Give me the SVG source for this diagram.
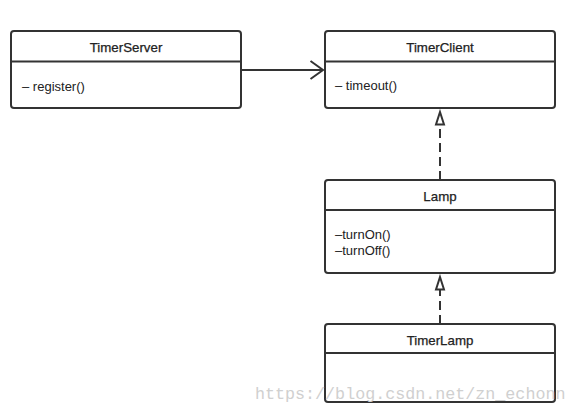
<svg xmlns="http://www.w3.org/2000/svg" width="575" height="415" viewBox="0 0 575 415">
<style>
.box{fill:#fff;stroke:#333;stroke-width:2}
.sep{stroke:#333;stroke-width:2}
.t{font-family:"Liberation Sans",Arial,sans-serif;font-size:13px;fill:#222}
.h{font-size:13.3px;text-anchor:middle;stroke:#222;stroke-width:0.25}
.conn{fill:none;stroke:#333;stroke-width:2}
.dash{stroke-dasharray:9 5}
.tri{fill:#fff;stroke:#333;stroke-width:2}
.wm{font-family:"Liberation Mono","Courier New",monospace;font-size:16.7px;fill:#d0d0d0}
</style>
<defs>
<marker id="open" markerWidth="16" markerHeight="22" refX="14" refY="11" orient="auto" markerUnits="userSpaceOnUse">
<path d="M1.5,2 L14,11 L1.5,20" fill="none" stroke="#333" stroke-width="2"/>
</marker>
</defs>
<rect width="575" height="415" fill="#fff"/>
<g id="TimerServer">
<rect class="box" x="11" y="31" width="230" height="77" rx="3"/>
<line class="sep" x1="11" y1="61.5" x2="241" y2="61.5"/>
<text class="t h" x="126" y="51.5">TimerServer</text>
<text class="t" x="22" y="91">– register()</text>
</g>
<g id="TimerClient">
<rect class="box" x="325" y="31" width="230" height="77" rx="3"/>
<line class="sep" x1="325" y1="61.5" x2="555" y2="61.5"/>
<text class="t h" x="440" y="51.5">TimerClient</text>
<text class="t" x="335" y="90">– timeout()</text>
</g>
<g id="Lamp">
<rect class="box" x="325" y="180" width="230" height="93" rx="3"/>
<line class="sep" x1="325" y1="210" x2="555" y2="210"/>
<text class="t h" x="440" y="200.5">Lamp</text>
<text class="t" x="335" y="238.5">–turnOn()</text>
<text class="t" x="335" y="254.5">–turnOff()</text>
</g>
<g id="TimerLamp">
<rect class="box" x="325" y="324" width="230" height="78" rx="3"/>
<line class="sep" x1="325" y1="353" x2="555" y2="353"/>
<text class="t h" x="440" y="344.5">TimerLamp</text>
</g>
<g id="connectors">
<line class="conn" x1="241" y1="70" x2="323" y2="70" marker-end="url(#open)"/>
<line class="conn dash" x1="440" y1="180" x2="440" y2="124"/>
<path class="tri" d="M440,112 L444,124.5 L436,124.5 Z"/>
<line class="conn dash" x1="440" y1="324" x2="440" y2="289"/>
<path class="tri" d="M440,277 L444,289.5 L436,289.5 Z"/>
</g>
<text class="wm" x="255" y="399">https://blog.csdn.net/zn_echonn</text>
</svg>
